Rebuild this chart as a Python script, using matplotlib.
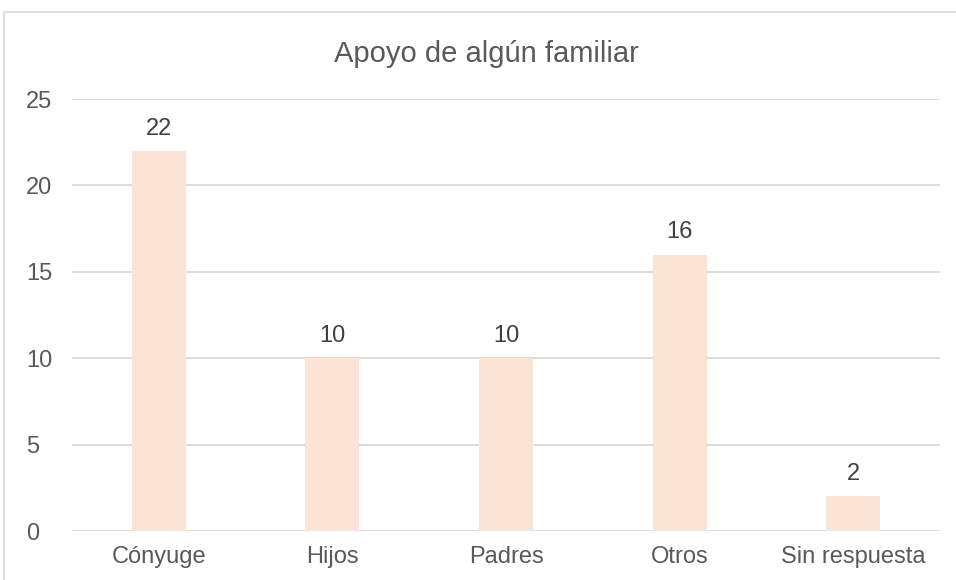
import matplotlib
matplotlib.use('Agg')
import matplotlib.pyplot as plt
from matplotlib.patches import Rectangle

plt.rcParams['font.family'] = ['Liberation Sans', 'DejaVu Sans']

categorias = ['Cónyuge', 'Hijos', 'Padres', 'Otros', 'Sin respuesta']
valores = [22, 10, 10, 16, 2]
titulo = 'Apoyo de algún familiar'

texto = '#595959'
barra = '#FBE3D6'
rejilla = '#D9D9D9'

fig = plt.figure(figsize=(9.56, 5.8), dpi=100)
ax = fig.add_axes([72 / 956, 1 - 531 / 580, 868 / 956, 432 / 580])

# marco exterior del gráfico
fig.patches.append(Rectangle((4 / 956, -0.1), 1.1, 1 - 12 / 580 + 0.1,
                             transform=fig.transFigure, fill=False,
                             edgecolor='#D9D9D9', linewidth=1.2))

x = range(len(categorias))
bars = ax.bar(x, valores, width=0.31, color=barra, zorder=3)
for b, v in zip(bars, valores):
    ax.text(b.get_x() + b.get_width() / 2, v + 0.65, str(v), ha='center', va='bottom',
            fontsize=17, color='#404040')

ax.set_xlim(-0.5, len(categorias) - 0.5)
ax.set_ylim(0, 25)
ax.set_yticks(range(0, 26, 5))
ax.set_xticks(list(x))
ax.set_xticklabels(categorias)
ax.grid(axis='y', color=rejilla, linewidth=1.3, zorder=0)
for s in ax.spines.values():
    s.set_visible(False)
ax.tick_params(axis='both', length=0, labelsize=17, labelcolor=texto)
ax.tick_params(axis='x', pad=11)
ax.tick_params(axis='y', pad=33)
for lbl in ax.get_yticklabels():
    lbl.set_horizontalalignment('left')

fig.text(486 / 956, 1 - 54 / 580, titulo, ha='center', va='center', fontsize=21, color=texto)

fig.savefig('out.png', dpi=100)
